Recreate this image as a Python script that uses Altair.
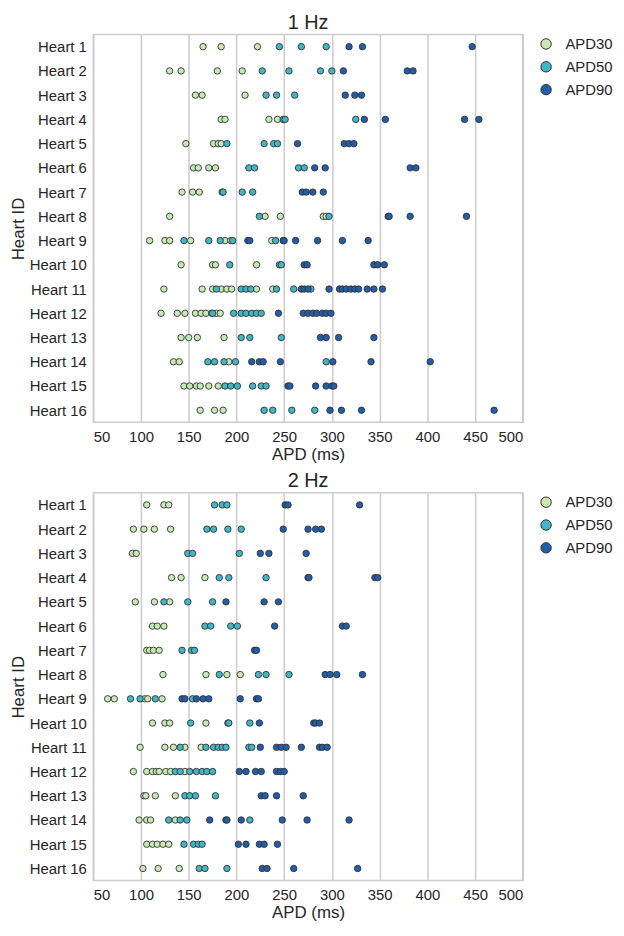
import altair as alt
import pandas as pd

HEARTS = [f"Heart {i}" for i in range(1, 17)]
TYPES = ["APD30", "APD50", "APD90"]
COLORS = ["#c7e9b4", "#41b6c4", "#225ea8"]
X_TICKS = [50, 100, 150, 200, 250, 300, 350, 400, 450, 500]

# ---- 1 Hz: values per heart (Heart 1 .. Heart 16) ----
HZ1_APD30 = [
    [165, 184, 222], [130, 142, 180, 206], [157, 164, 209], [184, 188, 234, 243],
    [147, 176, 181, 184], [155, 160, 171, 178], [143, 154, 161], [130, 230, 246, 291, 294],
    [109, 125, 130, 152, 188, 194, 237], [142, 175, 178, 221],
    [124, 164, 175, 184, 190, 195, 221, 238],
    [121, 138, 146, 157, 163, 168, 174, 179, 183],
    [142, 150, 159, 187], [134, 140, 192], [145, 151, 158, 162, 171, 181], [162, 177, 186],
]
HZ1_APD50 = [
    [245, 268, 294], [227, 255, 288, 300], [231, 242, 261], [249, 251, 325],
    [190, 229, 239, 243], [213, 219, 265, 271], [185, 186, 206, 217], [224, 297],
    [145, 171, 183, 196, 241], [193, 245, 247],
    [179, 205, 210, 215, 242, 260, 278],
    [175, 197, 205, 210, 216, 221, 226],
    [205, 214, 247], [170, 177, 187, 199, 294], [188, 194, 201, 217, 226, 231],
    [229, 238, 258, 282],
]
HZ1_APD90 = [
    [318, 332, 447], [312, 379, 385], [314, 324, 331], [334, 356, 439, 454],
    [264, 313, 318, 323], [282, 293, 382, 388], [269, 273, 280, 291], [359, 360, 382, 441],
    [212, 214, 249, 250, 262, 285, 311, 338], [271, 274, 344, 348, 355],
    [268, 271, 275, 297, 308, 311, 315, 320, 324, 328, 337, 344, 353],
    [244, 270, 275, 280, 284, 290, 294, 299],
    [288, 294, 307, 344], [216, 224, 228, 246, 301, 341, 403],
    [254, 256, 283, 294, 300, 302], [298, 310, 331, 470],
]

# ---- 2 Hz: values per heart (Heart 1 .. Heart 16) ----
HZ2_APD30 = [
    [106, 124, 129], [92, 103, 114, 131], [91, 95], [132, 142, 167],
    [94, 114, 130], [112, 117, 124], [106, 109, 113, 119], [123, 168, 190, 204],
    [65, 72, 104, 107, 122], [112, 125, 130, 168], [99, 125, 134, 146, 163],
    [92, 106, 112, 116, 119, 126, 131, 146], [103, 105, 115, 136], [98, 106, 110, 136],
    [106, 112, 117, 123, 129], [102, 118, 140],
]
HZ2_APD50 = [
    [177, 185, 190], [169, 176, 191, 205], [149, 154, 203], [182, 192, 231],
    [124, 149, 175], [167, 173, 194, 201], [143, 153, 156], [182, 223, 231, 255],
    [89, 99, 115, 154], [152, 191, 192, 214], [141, 168, 176, 181, 185, 189, 213, 216],
    [136, 141, 151, 158, 164, 169, 175], [146, 151, 157, 178], [129, 141, 148, 214],
    [145, 155, 160, 164], [161, 167, 190],
]
HZ2_APD90 = [
    [251, 254, 329], [249, 275, 283, 289], [225, 234, 273], [275, 276, 345, 348],
    [189, 229, 244], [240, 311, 315], [219, 221], [293, 298, 305, 332],
    [143, 146, 158, 165, 171, 204, 221, 223], [224, 281, 283, 287],
    [225, 242, 247, 252, 268, 287, 290, 295], [203, 210, 220, 226, 242, 246, 250],
    [226, 230, 242, 270], [172, 189, 190, 205, 248, 274, 318],
    [202, 210, 224, 229, 243], [227, 232, 260, 327],
]

FONT = "Liberation Sans"
TEXT = "#262626"


def build(apd30, apd50, apd90):
    rows = []
    for k, (t, series) in enumerate(zip(TYPES, [apd30, apd50, apd90])):
        for h, vals in zip(HEARTS, series):
            for v in vals:
                rows.append({"heart": h, "apd": v, "type": t, "ord": k})
    return pd.DataFrame(rows)


def panel(df, title):
    return (
        alt.Chart(df)
        .mark_circle(size=42, opacity=1, stroke="#333333", strokeWidth=0.9)
        .encode(
            x=alt.X(
                "apd:Q",
                scale=alt.Scale(domain=[50, 500], nice=False, zero=False),
                axis=alt.Axis(values=X_TICKS, title="APD (ms)", grid=True),
            ),
            y=alt.Y("heart:N", sort=HEARTS, axis=alt.Axis(title="Heart ID", grid=False)),
            color=alt.Color(
                "type:N",
                scale=alt.Scale(domain=TYPES, range=COLORS),
                legend=alt.Legend(
                    title=None,
                    orient="right",
                    symbolType="circle",
                    symbolSize=110,
                    symbolStrokeColor="#333333",
                    symbolStrokeWidth=1,
                    labelFontSize=15,
                    labelFont=FONT,
                    labelColor=TEXT,
                    labelOffset=12,
                    rowPadding=7,
                    offset=14,
                    padding=2,
                ),
            ),
            order=alt.Order("ord:Q"),
        )
        .properties(
            width=433,
            height=391,
            title=alt.TitleParams(title, fontSize=20, font=FONT, color=TEXT,
                                  fontWeight="normal", offset=-18, baseline="bottom"),
        )
    )


top = panel(build(HZ1_APD30, HZ1_APD50, HZ1_APD90), "1 Hz")
bottom = panel(build(HZ2_APD30, HZ2_APD50, HZ2_APD90), "2 Hz")

chart = (
    alt.vconcat(top, bottom, spacing=7, padding=0)
    .resolve_legend(color="independent")
    .configure_view(stroke="#cccccc", strokeWidth=1.5)
    .configure_axis(
        labelFont=FONT,
        titleFont=FONT,
        labelFontSize=15,
        titleFontSize=17,
        titleFontWeight="normal",
        labelColor=TEXT,
        titleColor=TEXT,
        ticks=False,
        domain=False,
        gridColor="#cccccc",
        gridWidth=1.5,
    )
    .configure_axisX(labelPadding=7, titlePadding=2)
    .configure_axisY(labelPadding=7, titlePadding=2)
)

chart.save("out.html", embed_options={"renderer": "svg", "actions": False})
